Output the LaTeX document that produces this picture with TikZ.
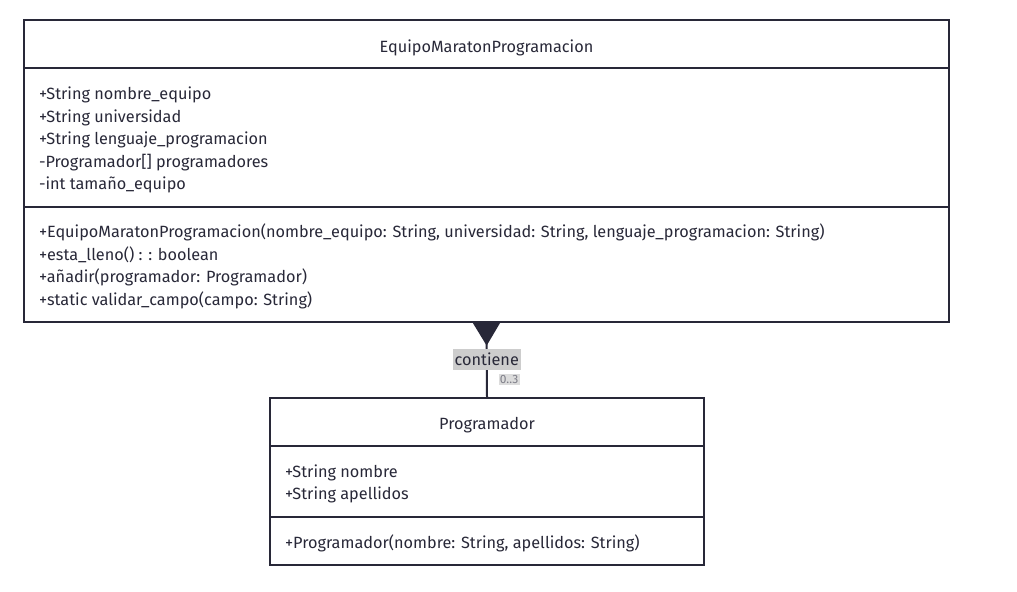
\documentclass[tikz,border=0pt]{standalone}
\usepackage{fontspec}
\setmainfont{Fira Sans}
\usetikzlibrary{arrows.meta,positioning}
\definecolor{linec}{RGB}{40,40,56}
\definecolor{labelbg}{RGB}{205,205,205}

\begin{document}
\begin{tikzpicture}[x=0.75pt,y=-0.75pt,line width=1.5pt,
    every node/.style={inner sep=0pt,text=linec,font=\fontsize{12.2}{14}\selectfont},
    classbox/.style={draw=linec,fill=white},
    member/.style={anchor=mid west,yshift=-1.5pt},
    >={Triangle[reversed,width=20pt,length=17pt]}]
  \useasboundingbox(0,0)rectangle(1017,592);
  % class boxes
  \node[classbox,minimum width=693.75pt,minimum height=226.5pt](equipo)at(486.5,171){};
  \node[classbox,minimum width=325.5pt,minimum height=125.25pt](programador)at(487,481.5){};
  \draw[linec](24,68)--(949,68) (24,207)--(949,207);
  \draw[linec](270,446)--(704,446) (270,517)--(704,517);
  % EquipoMaratonProgramacion
  \node(equiponame)at(486.5,47.5){EquipoMaratonProgramacion};
  \node[member](a1)at(38,94){+String nombre\_equipo};
  \node[member](a2)at(38,116.5){+String universidad};
  \node[member](a3)at(38,139){+String lenguaje\_programacion};
  \node[member](a4)at(38,161.5){-Programador[] programadores};
  \node[member](a5)at(38,184){-int tamaño\_equipo};
  \node[member](m1)at(38,232){+EquipoMaratonProgramacion(nombre\_equipo: String, universidad: String, lenguaje\_programacion: String)};
  \node[member](m2)at(38,254.5){+esta\_lleno() : : boolean};
  \node[member](m3)at(38,277){+añadir(programador: Programador)};
  \node[member](m4)at(38,299.5){+static validar\_campo(campo: String)};
  % Programador
  \node(progname)at(487,425.5){Programador};
  \node[member](b1)at(284,472){+String nombre};
  \node[member](b2)at(284,494){+String apellidos};
  \node[member](c1)at(284,543){+Programador(nombre: String, apellidos: String)};
  % relation
  \draw[linec,->](programador.north)--(equipo.south)
    node[pos=0.51,fill=labelbg,inner xsep=1.5pt,inner ysep=3pt](contiene){contiene}
    node[pos=0.24,anchor=west,xshift=8pt,fill=labelbg!70,inner sep=1pt,
      text=linec!60,font=\fontsize{9}{10}\selectfont](mult){0..3};
\end{tikzpicture}
\end{document}
